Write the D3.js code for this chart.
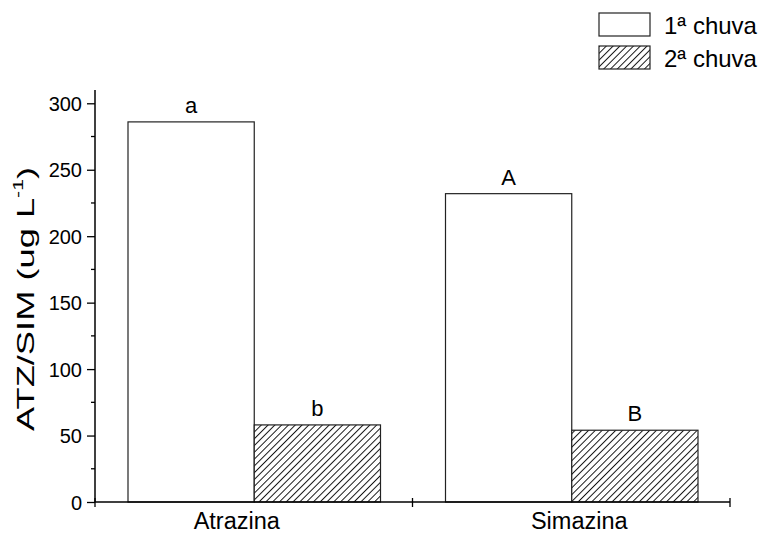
<!DOCTYPE html>
<html><head><meta charset="utf-8">
<script src="https://cdn.jsdelivr.net/npm/d3@7"></script>
<style>body{margin:0;background:#fff}svg{display:block}text{font-family:"Liberation Sans",Arial,sans-serif;fill:#000}</style>
</head><body>
<svg id="c" width="760" height="535"></svg>
<script>
const categories = ["Atrazina", "Simazina"];
const series = ["1ª chuva", "2ª chuva"];
const values1 = [286, 232];
const values2 = [58, 54];
const letters1 = ["a", "A"];
const letters2 = ["b", "B"];
const yTicks = [0, 50, 100, 150, 200, 250, 300];

(function () {
const svg = d3.select("#c");
const defs = svg.append("defs");
const hs = 4.8;
const pat = defs.append("pattern").attr("id", "hatch").attr("patternUnits", "userSpaceOnUse")
  .attr("width", hs).attr("height", hs).attr("patternTransform", "rotate(45)");
pat.append("rect").attr("width", hs).attr("height", hs).attr("fill", "#fff");
pat.append("line").attr("x1", 0.5).attr("y1", 0).attr("x2", 0.5).attr("y2", hs)
  .attr("stroke", "#000").attr("stroke-width", 0.9);

const mLeft = 95, mRight = 730, mTop = 90, mBottom = 502;
const x = d3.scaleBand().domain(categories).range([mLeft, mRight]).paddingInner(0).paddingOuter(0);
const inner = d3.scaleBand().domain(series).range([33, x.bandwidth() - 32]).padding(0);
const y = d3.scaleLinear().domain([0, 310]).range([mBottom, mTop]);

const data = categories.map((c, i) => [
  {cat: c, s: series[0], v: values1[i], l: letters1[i]},
  {cat: c, s: series[1], v: values2[i], l: letters2[i]}
]).flat();

const g = svg.append("g");
g.selectAll("rect.bar").data(data).join("rect").attr("class", "bar")
  .attr("x", d => x(d.cat) + inner(d.s)).attr("width", inner.bandwidth())
  .attr("y", d => y(d.v)).attr("height", d => y(0) - y(d.v))
  .attr("fill", d => d.s === series[0] ? "#fff" : "url(#hatch)")
  .attr("stroke", "#222").attr("stroke-width", 1.2);

g.selectAll("text.lab").data(data).join("text").attr("class", "lab")
  .attr("x", d => x(d.cat) + inner(d.s) + inner.bandwidth() / 2)
  .attr("y", d => y(d.v) - 9).attr("text-anchor", "middle")
  .attr("font-size", 22).text(d => d.l);

// Y axis
const yAxis = svg.append("g").attr("transform", `translate(${mLeft},0)`)
  .call(d3.axisLeft(y).tickValues(yTicks).tickSize(8).tickPadding(5).tickSizeOuter(0));
yAxis.select(".domain").remove();
yAxis.selectAll("text").attr("font-size", 20).attr("font-family", "Liberation Sans, Arial, sans-serif").attr("dy", "0.35em");
yAxis.selectAll("line").attr("stroke", "#000").attr("stroke-width", 1.3);
const minor = d3.range(25, 300, 50);
svg.append("g").selectAll("line").data(minor).join("line")
  .attr("x1", mLeft - 4).attr("x2", mLeft).attr("y1", d => y(d)).attr("y2", d => y(d))
  .attr("stroke", "#000").attr("stroke-width", 1.3);
svg.append("line").attr("x1", mLeft).attr("x2", mLeft).attr("y1", mTop).attr("y2", mBottom)
  .attr("stroke", "#000").attr("stroke-width", 1.5);

// X axis
svg.append("line").attr("x1", mLeft).attr("x2", mRight).attr("y1", mBottom).attr("y2", mBottom)
  .attr("stroke", "#000").attr("stroke-width", 1.5);
const xb = [mLeft, ...categories.slice(1).map(c => x(c)), mRight];
svg.append("g").selectAll("line").data(xb).join("line")
  .attr("x1", d => d).attr("x2", d => d).attr("y1", mBottom - 4).attr("y2", mBottom + 5)
  .attr("stroke", "#000").attr("stroke-width", 1.3);
const labelDx = [-17, 8];
svg.append("g").selectAll("text").data(categories).join("text")
  .attr("x", (d, i) => x(d) + x.bandwidth() / 2 + labelDx[i]).attr("y", 529)
  .attr("text-anchor", "middle").attr("font-size", 23.5).text(d => d);

// Y title
const yt = svg.append("text").attr("transform", `translate(34,299) rotate(-90)`)
  .attr("text-anchor", "middle").attr("font-size", 24)
  .attr("textLength", 264).attr("lengthAdjust", "spacingAndGlyphs");
yt.append("tspan").text("ATZ/SIM (ug L");
yt.append("tspan").attr("font-size", 14).attr("dy", -11).text("-1");
yt.append("tspan").attr("dy", 11).text(")");

// Legend
const leg = svg.append("g");
series.forEach((s, i) => {
  const yy = 13 + i * 33;
  leg.append("rect").attr("x", 599).attr("y", yy).attr("width", 51).attr("height", 23)
    .attr("fill", i === 0 ? "#fff" : "url(#hatch)").attr("stroke", "#222").attr("stroke-width", 1.2);
  leg.append("text").attr("x", 664).attr("y", yy + 21).attr("font-size", 24).text(s);
});
})();
</script>
</body></html>
